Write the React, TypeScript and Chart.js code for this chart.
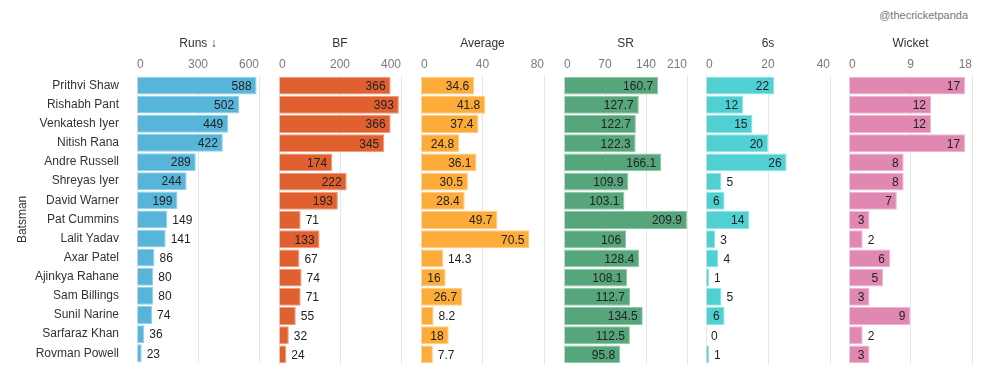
import React, { useEffect, useRef } from "react";
import { Chart, registerables } from "chart.js";

Chart.register(...registerables);

const batsmen = [
  "Prithvi Shaw", "Rishabh Pant", "Venkatesh Iyer", "Nitish Rana", "Andre Russell",
  "Shreyas Iyer", "David Warner", "Pat Cummins", "Lalit Yadav", "Axar Patel",
  "Ajinkya Rahane", "Sam Billings", "Sunil Narine", "Sarfaraz Khan", "Rovman Powell",
];
const runs = [588, 502, 449, 422, 289, 244, 199, 149, 141, 86, 80, 80, 74, 36, 23];
const ballsFaced = [366, 393, 366, 345, 174, 222, 193, 71, 133, 67, 74, 71, 55, 32, 24];
const average = [34.6, 41.8, 37.4, 24.8, 36.1, 30.5, 28.4, 49.7, 70.5, 14.3, 16, 26.7, 8.2, 18, 7.7];
const strikeRate = [160.7, 127.7, 122.7, 122.3, 166.1, 109.9, 103.1, 209.9, 106, 128.4, 108.1, 112.7, 134.5, 112.5, 95.8];
const sixes = [22, 12, 15, 20, 26, 5, 6, 14, 3, 4, 1, 5, 6, 0, 1];
const wickets = [17, 12, 12, 17, 8, 8, 7, 3, 2, 6, 5, 3, 9, 2, 3];

const panelTitles = ["Runs \u2193", "BF", "Average", "SR", "6s", "Wicket"];
const panelMax = [600, 400, 80, 210, 40, 18];
const panelStep = [300, 200, 40, 70, 20, 9];
const panelValues = [runs, ballsFaced, average, strikeRate, sixes, wickets];
const panelColors = ["#57b5da", "#e0602f", "#fdac3a", "#56a57b", "#50d0d2", "#e088b2"];
const panelBorders = ["#8fd0ea", "#f09a78", "#ffcb80", "#8cc7a5", "#8de6e7", "#f1b6d0"];

const FONT = '"Liberation Sans", Arial, sans-serif';
const AREA_TOP = 76;
const AREA_BOTTOM = 364;
const H = 380;
const PAD_TOP = 30;
const SIDE = 10;
const starts = [137, 279, 421, 564, 706, 849];
const ends = [259, 401, 544, 687, 830, 972];

const labelPlugin = {
  id: "barLabels",
  afterDatasetsDraw(chart: any) {
    const ctx = chart.ctx;
    const meta = chart.getDatasetMeta(0);
    const data = chart.data.datasets[0].data;
    ctx.save();
    ctx.font = `12px ${FONT}`;
    ctx.textBaseline = "middle";
    ctx.fillStyle = "#222";
    meta.data.forEach((el: any, i: number) => {
      const txt = String(data[i]);
      const w = ctx.measureText(txt).width;
      const { x, y, base } = el.getProps(["x", "y", "base"], true);
      const len = x - base;
      if (len >= w + 10.5) {
        ctx.textAlign = "right";
        ctx.fillText(txt, x - 5, y + 1);
      } else {
        ctx.textAlign = "left";
        ctx.fillText(txt, x + 5, y + 1);
      }
    });
    ctx.restore();
  },
};

function Panel({ idx }: { idx: number }) {
  const ref = useRef<HTMLCanvasElement>(null);
  const first = idx === 0;
  const left = first ? 0 : starts[idx] - SIDE;
  const width = ends[idx] + SIDE - left;

  useEffect(() => {
    if (!ref.current) return;
    const yScale: any = {
      display: first,
      grid: { display: false },
      border: { display: false },
      ticks: {
        color: "#333",
        padding: 10,
        autoSkip: false,
        font: { family: FONT, size: 12 },
      },
      title: {
        display: first,
        text: "Batsman",
        color: "#333",
        font: { family: FONT, size: 12 },
        padding: { top: 5, bottom: 0 },
      },
    };
    if (first) {
      yScale.afterFit = (s: any) => {
        s.width = starts[0] - SIDE;
      };
    }
    const chart = new Chart(ref.current, {
      type: "bar",
      data: {
        labels: batsmen,
        datasets: [
          {
            data: panelValues[idx],
            backgroundColor: panelColors[idx],
            borderColor: panelBorders[idx],
            borderWidth: 1,
            barPercentage: 0.93,
            categoryPercentage: 1,
          },
        ],
      },
      options: {
        indexAxis: "y",
        animation: false,
        responsive: false,
        devicePixelRatio: 1,
        layout: {
          padding: { top: PAD_TOP, bottom: H - AREA_BOTTOM, left: SIDE, right: SIDE },
        },
        plugins: { legend: { display: false }, tooltip: { enabled: false } },
        scales: {
          x: {
            position: "top",
            min: 0,
            max: panelMax[idx],
            afterFit: (s: any) => {
              s.height = AREA_TOP - PAD_TOP;
            },
            ticks: {
              stepSize: panelStep[idx],
              align: "inner",
              padding: 4,
              maxRotation: 0,
              autoSkip: false,
              color: "#7a7a7a",
              font: { family: FONT, size: 12 },
            },
            grid: { color: "#e6e6e6", drawTicks: false, lineWidth: 1 },
            border: { display: false },
            title: {
              display: true,
              text: panelTitles[idx],
              color: "#333",
              font: { family: FONT, size: 12 },
              padding: { top: 6, bottom: 0 },
            },
          },
          y: yScale,
        },
      },
      plugins: [labelPlugin],
    } as any);
    return () => chart.destroy();
  }, [idx]);

  return (
    <canvas
      ref={ref}
      width={width}
      height={H}
      style={{ position: "absolute", left, top: 0, width, height: H }}
    />
  );
}

export default function App() {
  return (
    <div
      style={{
        position: "absolute",
        left: 0,
        top: 0,
        width: 1003,
        height: 380,
        background: "#fff",
        overflow: "hidden",
      }}
    >
      <div
        style={{
          position: "absolute",
          right: 1003 - 968,
          top: 9,
          fontFamily: FONT,
          fontSize: 11,
          color: "#777",
          whiteSpace: "nowrap",
        }}
      >
        @thecricketpanda
      </div>
      {panelTitles.map((_, i) => (
        <Panel key={i} idx={i} />
      ))}
    </div>
  );
}
